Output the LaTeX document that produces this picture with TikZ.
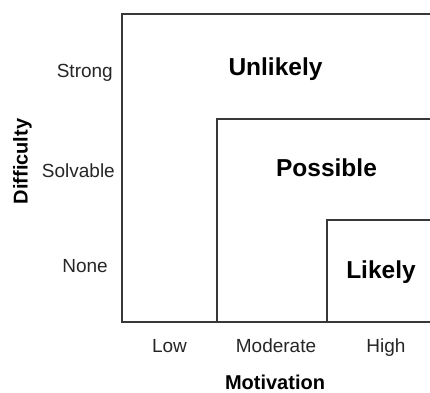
\documentclass[tikz,border=0pt]{standalone}
\usepackage{fontspec}
\setmainfont{Liberation Sans}
\begin{document}
\begin{tikzpicture}[x=1pt,y=-1pt,
  frame/.style={draw=black!78,line width=1.8pt},
  axislab/.style={anchor=base,font=\fontsize{19}{22}\selectfont,text=black!85,inner sep=0pt},
  axistitle/.style={anchor=base,font=\fontsize{20}{22}\selectfont\bfseries,inner sep=0pt},
  zone/.style={anchor=base,font=\fontsize{24.5}{28}\selectfont\bfseries,inner sep=0pt}]
\useasboundingbox (0,0) rectangle (430,392);
\fill[white] (0,0) rectangle (430,392);
% regions
\coordinate (o1) at (430,14);
\coordinate (o2) at (121.7,14);
\coordinate (o3) at (121.7,321.7);
\coordinate (o4) at (430,321.7);
\coordinate (m1) at (430,118.7);
\coordinate (m2) at (217,118.7);
\coordinate (m3) at (217,321.7);
\coordinate (i1) at (430,220);
\coordinate (i2) at (326.7,220);
\coordinate (i3) at (326.7,321.7);
\draw[frame] (o1) -- (o2) -- (o3) -- (o4);
\draw[frame] (m1) -- (m2) -- (m3);
\draw[frame] (i1) -- (i2) -- (i3);
% zone labels
\node[zone] (unlikely) at (275.5,75) {Unlikely};
\node[zone] (possible) at (326.5,176) {Possible};
\node[zone] (likely) at (381,278) {Likely};
% difficulty labels
\node[axislab,anchor=base east] (strong) at (113,77) {Strong};
\node[axislab,anchor=base east] (solvable) at (115,177) {Solvable};
\node[axislab,anchor=base east] (none) at (108,272) {None};
% motivation labels
\node[axislab] (low) at (169.5,352) {Low};
\node[axislab] (moderate) at (276,352) {Moderate};
\node[axislab] (high) at (386,352) {High};
% axis titles
\node[axistitle] (motivation) at (275,389) {Motivation};
\node[axistitle,rotate=90] (difficulty) at (27.5,161.5) {Difficulty};
\end{tikzpicture}
\end{document}
